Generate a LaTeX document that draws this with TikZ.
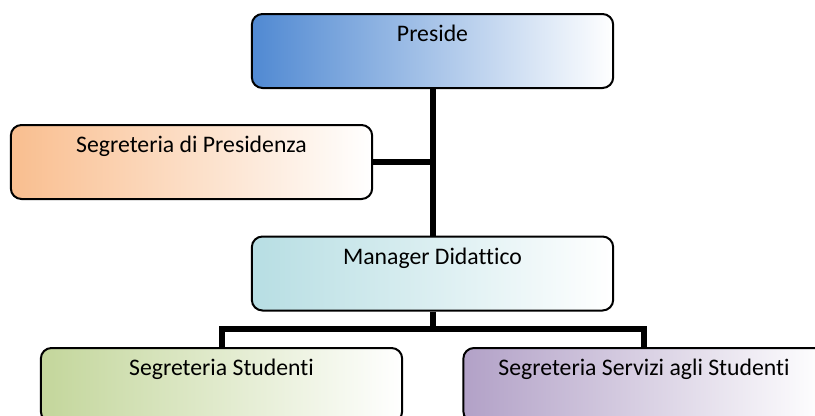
\documentclass[tikz,border=0pt]{standalone}
\usepackage{fontspec}
\setmainfont{Carlito}[Ligatures=NoCommon]
\usepackage{tikz}

\definecolor{presblue}{RGB}{80,137,210}
\definecolor{segorange}{RGB}{249,190,143}
\definecolor{mantea}{RGB}{183,222,227}
\definecolor{stugreen}{RGB}{195,214,155}
\definecolor{servlilac}{RGB}{178,161,199}

\begin{document}
\begin{tikzpicture}[x=0.75pt, y=-0.75pt,
	ufficio/.style={draw=black, line width=1.5pt, rounded corners=8pt, inner sep=0pt,
		minimum width=271pt, minimum height=55.5pt, text height=20.7pt, text depth=34.8pt,
		right color=white, font=\fontsize{17.8}{20}\selectfont},
	conn/.style={line width=4.5pt}]

	\useasboundingbox (0, 0) rectangle (815, 415);

	\node[ufficio, left color=presblue] (preside) at (432.5, 51) {Preside};
	\node[ufficio, left color=segorange] (segpres) at (191.5, 162) {Segreteria di Presidenza};
	\node[ufficio, left color=mantea] (manager) at (432.5, 273.5) {Manager Didattico};
	\node[ufficio, left color=stugreen] (segstud) at (221.5, 385) {Segreteria Studenti};
	\node[ufficio, left color=servlilac] (segserv) at (644, 385) {Segreteria Servizi agli Studenti};

	\coordinate (bar) at (432.5, 329);

	\draw[conn] (preside.south) -- (manager.north);
	\draw[conn] (segpres.east) -- (segpres.east -| preside.south);
	\draw[conn] (manager.south) -- (bar);
	\draw[conn] (segstud.north) |- (bar) -| (segserv.north);
\end{tikzpicture}
\end{document}
